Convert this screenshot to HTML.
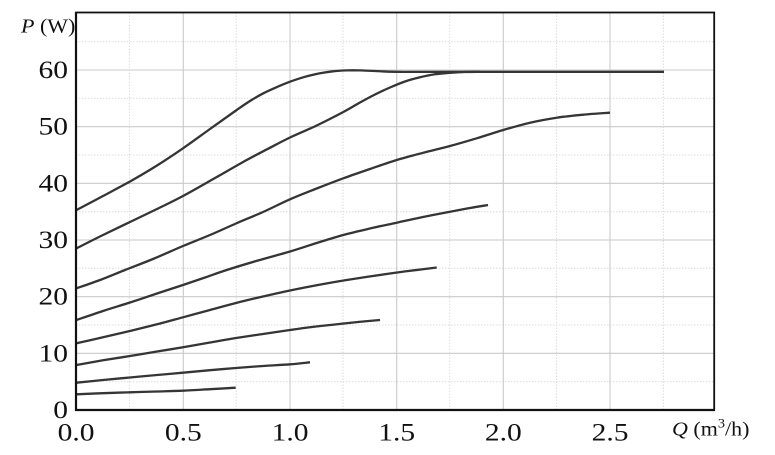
<!DOCTYPE html>
<html>
<head>
<meta charset="utf-8">
<style>
html,body{margin:0;padding:0;background:#fff;}
svg{display:block;}
text{font-family:"Liberation Serif","Times New Roman",serif;fill:#111;}
</style>
</head>
<body>
<svg id="chart" width="775" height="455" viewBox="0 0 775 455" xmlns="http://www.w3.org/2000/svg">
<rect width="775" height="455" fill="#fff"/>
<!-- minor dotted grid -->
<g stroke="#dcdcdc" stroke-width="1" stroke-dasharray="1.5,1.5" fill="none">
<line x1="129.4" y1="12.5" x2="129.4" y2="410"/>
<line x1="236.2" y1="12.5" x2="236.2" y2="410"/>
<line x1="343" y1="12.5" x2="343" y2="410"/>
<line x1="449.8" y1="12.5" x2="449.8" y2="410"/>
<line x1="556.6" y1="12.5" x2="556.6" y2="410"/>
<line x1="663.4" y1="12.5" x2="663.4" y2="410"/>
<line x1="76" y1="381.7" x2="714" y2="381.7"/>
<line x1="76" y1="325" x2="714" y2="325"/>
<line x1="76" y1="268.3" x2="714" y2="268.3"/>
<line x1="76" y1="211.7" x2="714" y2="211.7"/>
<line x1="76" y1="155" x2="714" y2="155"/>
<line x1="76" y1="98.3" x2="714" y2="98.3"/>
<line x1="76" y1="41.7" x2="714" y2="41.7"/>
</g>
<!-- major grid -->
<g stroke="#c9c9c9" stroke-width="1.1" fill="none">
<line x1="183.3" y1="12.5" x2="183.3" y2="410"/>
<line x1="290" y1="12.5" x2="290" y2="410"/>
<line x1="396.7" y1="12.5" x2="396.7" y2="410"/>
<line x1="503.3" y1="12.5" x2="503.3" y2="410"/>
<line x1="610" y1="12.5" x2="610" y2="410"/>
<line x1="76" y1="353.3" x2="714" y2="353.3"/>
<line x1="76" y1="296.7" x2="714" y2="296.7"/>
<line x1="76" y1="240" x2="714" y2="240"/>
<line x1="76" y1="183.3" x2="714" y2="183.3"/>
<line x1="76" y1="126.7" x2="714" y2="126.7"/>
<line x1="76" y1="70" x2="714" y2="70"/>
</g>
<!-- curves -->
<g id="curves" stroke="#353535" stroke-width="2.3" fill="none" stroke-linejoin="round" stroke-linecap="butt">
<polyline points="76.5,210 103,196 130,181.5 157,165.5 183,148.3 210,129 236.7,110 250,101 263.3,93.3 277,87 290,81.7 305,76.8 320,73.3 333,71.3 346.7,70.4 360,70.4 375,71 396.7,71.8 450,71.8 664,71.8"/>
<polyline points="76.5,248.3 103,235 130,222 157,209 183,196 215,178 246.7,160 268,148.8 290,137.5 316.7,125.5 343.3,112 360,102.5 375,94.5 390,87.5 405,81.5 420,77.3 435,74.3 450,72.8 465,72 480,71.8"/>
<polyline points="76.5,288.3 100,280 125,270 153,259 183,246 210,235 236,223.5 263,212 290,199.3 316.7,188.5 343.3,178.3 370,169 396.7,160 423,152.8 450,146 476.7,138.3 503.3,130 530,122.7 556.7,117.7 583.3,114.7 610,112.7"/>
<polyline points="76.5,320 103,311 130,302.5 157,293.5 183,285 205,277.5 226.7,270 258,260.5 290,251.5 316.7,243 343.3,235 370,228.5 396.7,222.7 423,217 450,211.7 470,208 488,205"/>
<polyline points="76.5,343.3 103,337.3 130,331 157,324.3 183,317.3 210,310 236,303 263,296.5 290,290.5 318,285 346.7,280 390,273.5 415,270.2 436.7,267.5"/>
<polyline points="76.5,365 103,360.3 130,356 157,351.5 183,347.3 210,342.5 236,338 263,334 290,330 312,327 335,324.5 358,322 380,320"/>
<polyline points="76.5,382.7 103,380 130,377.5 157,375 183,372.7 210,370.2 236,368 263,366 290,364.3 310,362.3"/>
<polyline points="76.5,394.3 103,393.2 130,392.3 157,391.5 183,390.7 210,389.2 235.7,387.7"/>
</g>
<!-- frame -->
<rect x="76" y="12.5" width="638.2" height="397.5" fill="none" stroke="#111" stroke-width="1.8"/>
<line x1="76" y1="12" x2="76" y2="411" stroke="#111" stroke-width="2.2"/>
<line x1="75" y1="410" x2="715" y2="410" stroke="#111" stroke-width="2.2"/>
<!-- y tick labels -->
<g font-size="25" text-anchor="end">
<text transform="translate(68,78) scale(1.18,1)">60</text>
<text transform="translate(68,134.7) scale(1.18,1)">50</text>
<text transform="translate(68,191.3) scale(1.18,1)">40</text>
<text transform="translate(68,248) scale(1.18,1)">30</text>
<text transform="translate(68,304.7) scale(1.18,1)">20</text>
<text transform="translate(68,361.3) scale(1.18,1)">10</text>
<text transform="translate(68,418) scale(1.18,1)">0</text>
</g>
<!-- x tick labels -->
<g font-size="25" text-anchor="middle">
<text transform="translate(76,440.5) scale(1.18,1)">0.0</text>
<text transform="translate(183.3,440.5) scale(1.18,1)">0.5</text>
<text transform="translate(290,440.5) scale(1.18,1)">1.0</text>
<text transform="translate(396.7,440.5) scale(1.18,1)">1.5</text>
<text transform="translate(503.3,440.5) scale(1.18,1)">2.0</text>
<text transform="translate(610,440.5) scale(1.18,1)">2.5</text>
</g>
<!-- axis titles -->
<text font-size="20" transform="translate(21,32.5) scale(1.1,1)"><tspan font-style="italic">P</tspan> (W)</text>
<text font-size="20" transform="translate(672,435.5) scale(1.1,1)"><tspan font-style="italic">Q</tspan> (m<tspan font-size="13" dy="-8">3</tspan><tspan dy="8">/h)</tspan></text>
</svg>
<script>
(function(){
  var ns="http://www.w3.org/2000/svg";
  var g=document.getElementById("curves");
  var pls=g.querySelectorAll("polyline");
  for(var k=0;k<pls.length;k++){
    var pl=pls[k];
    var raw=pl.getAttribute("points").trim().split(/\s+/);
    var p=raw.map(function(s){var a=s.split(",");return [parseFloat(a[0]),parseFloat(a[1])];});
    var d="M"+p[0][0]+","+p[0][1];
    for(var i=0;i<p.length-1;i++){
      var p0=p[i-1]||p[i],p1=p[i],p2=p[i+1],p3=p[i+2]||p[i+1];
      var c1x=p1[0]+(p2[0]-p0[0])/6,c1y=p1[1]+(p2[1]-p0[1])/6;
      var c2x=p2[0]-(p3[0]-p1[0])/6,c2y=p2[1]-(p3[1]-p1[1])/6;
      d+=" C"+c1x.toFixed(2)+","+c1y.toFixed(2)+" "+c2x.toFixed(2)+","+c2y.toFixed(2)+" "+p2[0]+","+p2[1];
    }
    var path=document.createElementNS(ns,"path");
    path.setAttribute("d",d);
    g.replaceChild(path,pl);
  }
})();
</script>
</body>
</html>
